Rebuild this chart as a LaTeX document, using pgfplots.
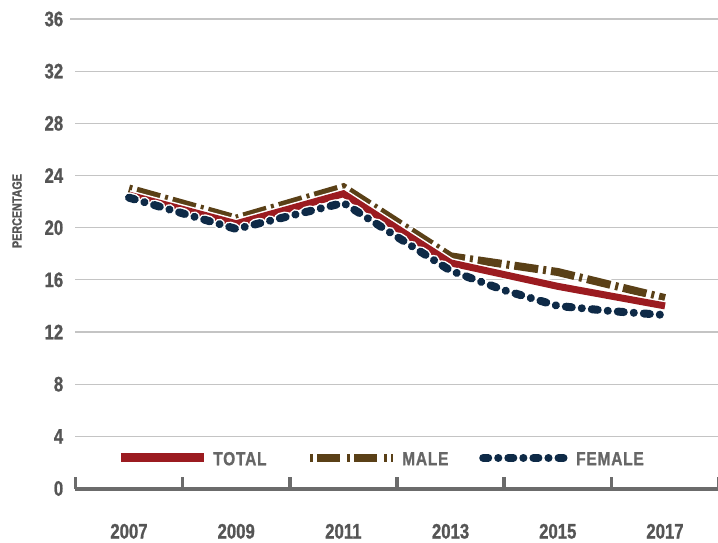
\documentclass[border=0pt]{standalone}
\usepackage{fontspec}
\setmainfont{Liberation Sans}[FakeStretch=0.88]
\newfontfamily\tickfam{Liberation Sans}[FakeStretch=0.8, BoldFeatures={FakeBold=1}]
\newfontfamily\legfam{Liberation Sans}[FakeStretch=0.82, LetterSpace=4, BoldFeatures={FakeBold=1}]
\usepackage{pgfplots}
\pgfplotsset{compat=1.18}
\definecolor{totalred}{HTML}{9B1B20}
\definecolor{malebrown}{HTML}{5A4017}
\definecolor{femnavy}{HTML}{0E2A47}
\definecolor{axisgray}{HTML}{6B6B6B}
\definecolor{gridgray}{HTML}{C4C4C4}
\definecolor{labgray}{HTML}{555555}
\definecolor{leggray}{HTML}{666666}
\newcommand{\legfont}{\legfam\bfseries\fontsize{19}{19}\selectfont\color{leggray}}
\begin{document}
\begin{tikzpicture}
\path[use as bounding box] (-75.4bp,-54.5bp) rectangle (642.6bp,488.5bp);
\begin{axis}[
  at={(0,0)}, anchor=south west, scale only axis,
  width=643.2bp, height=469.5bp,
  xmin=2006, xmax=2018, ymin=0, ymax=36,
  separate axis lines,
  axis x line*=bottom, axis y line*=left,
  x axis line style={draw=axisgray, line width=4bp},
  y axis line style={draw=none},
  xtick={2007,2009,...,2017},
  xticklabels={2007,2009,2011,2013,2015,2017},
  major x tick style={draw=none},
  minor xtick={2006,2008,...,2018},
  minor x tick style={draw=axisgray, line width=3.5bp},
  minor tick length=11bp,
  xtick align=inside,
  ytick={0,4,...,36},
  ytick style={draw=none},
  ymajorgrids,
  major grid style={draw=gridgray, line width=1.2bp, shorten <=-5bp},
  /pgf/number format/assume math mode=true,
  xticklabel style={font=\tickfam\bfseries\fontsize{21}{21}\selectfont, text=labgray, anchor=base, inner sep=0pt, yshift=-50bp},
  yticklabel style={font=\tickfam\bfseries\fontsize{21}{21}\selectfont, text=labgray, anchor=east, inner sep=0pt, xshift=-12bp},
  ylabel={PERCENTAGE},
  ylabel style={at={(axis description cs:-0.0908,0.591)}, anchor=center, font=\tickfam\bfseries\fontsize{13.5}{13.5}\selectfont, text=labgray},
  legend columns=3,
  legend style={draw=none, fill=none, at={(axis description cs:0.0632,0.062)}, anchor=west, inner sep=0pt, column sep=0pt, row sep=0pt},
  legend image code/.code={\draw[#1] (0bp,1.5bp) -- (83bp,1.5bp);},
]
% male
\addplot[forget plot, malebrown, line width=8bp, dash pattern=on 3bp off 5bp on 24bp off 5bp, preaction={draw=white, line width=11bp}]
  coordinates {(2007,23.0) (2009,20.7) (2011,23.1) (2013,17.8) (2015,16.6) (2017,14.6)};
% total
\addplot[forget plot, totalred, line width=7bp, preaction={draw=white, line width=10bp}]
  coordinates {(2007,22.5) (2009,20.3) (2011,22.6) (2013,17.3) (2015,15.5) (2017,14.0)};
% female
\addplot[forget plot, femnavy, line width=8bp, line cap=round, dash pattern=on 6bp off 10bp on 0.1bp off 10bp, preaction={draw=white, line width=11bp}]
  coordinates {(2007,22.3) (2009,19.9) (2011,21.9) (2013,16.7) (2014,15.2) (2015,14.0) (2016,13.6) (2017,13.3)};
\addlegendimage{totalred, line width=9bp}
\addlegendentry{\hspace{3bp}\makebox[91bp][l]{\legfont TOTAL}}
\addlegendimage{malebrown, line width=8bp, dash pattern=on 3bp off 4bp on 23bp off 7bp}
\addlegendentry{\hspace{3bp}\makebox[75bp][l]{\legfont MALE}}
\addlegendimage{femnavy, line width=8bp, line cap=round, dash pattern=on 5bp off 10bp on 0.1bp off 10bp}
\addlegendentry{\hspace{4bp}{\legfont FEMALE}}
\end{axis}
\end{tikzpicture}
\end{document}
